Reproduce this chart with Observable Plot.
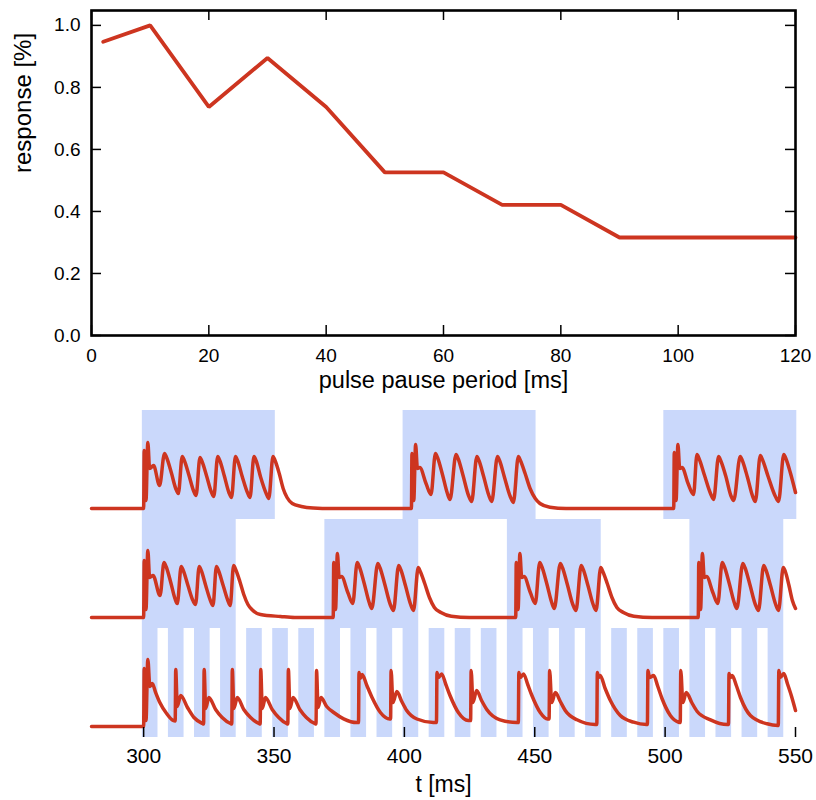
<!DOCTYPE html>
<html>
<head>
<meta charset="utf-8">
<script src="https://cdn.jsdelivr.net/npm/d3@7"></script>
<script src="https://cdn.jsdelivr.net/npm/@observablehq/plot@0.6"></script>
<style>
  html, body { margin: 0; padding: 0; background: #fff; overflow: hidden; }
  #chart svg { display: block; }
</style>
</head>
<body>
<div id="chart"></div>
<script>
// ---------- top panel data ----------
const pausePeriods = [2, 10, 20, 30, 40, 50, 60, 70, 80, 90, 100, 110, 120];
const responses = [0.947, 1.0, 0.737, 0.895, 0.737, 0.526, 0.526, 0.421, 0.421, 0.316, 0.316, 0.316, 0.316];
const pauseTicks = [0, 20, 40, 60, 80, 100, 120];
const responseTicks = [0.0, 0.2, 0.4, 0.6, 0.8, 1.0];

// ---------- bottom panel data ----------
const timeTicks = [300, 350, 400, 450, 500, 550];
const row1Blocks = [[300, 350], [400, 450], [500, 550]];
const row2Blocks = [[300, 335], [370, 405], [440, 475], [510, 545]];
const row3Pulses = [[300,305],[310,315],[320,325],[330,335],[340,345],[350,355],[360,365],[370,375],[380,385],[390,395],[400,405],[410,415],[420,425],[430,435],[440,445],[450,455],[460,465],[470,475],[480,485],[490,495],[500,505],[510,515],[520,525],[530,535],[540,545]];

// traces: [t (ms), response height]
const trace1 = [[280,0],[300.0,0],[300.2,58],[300.9,8],[301.6,66],[302.3,40],[303.8,43],[306.1,23],[308.0,55],
 [308.8,51],[310.6,36],[312.3,20],[313.3,15],[314.8,52],[315.6,48],[317.4,33],[319.1,18],[320.1,13],
 [321.6,51],[322.4,47],[324.2,32],[325.9,17],[326.9,12],[328.4,52],[329.2,48],[331.0,32],[332.7,16],[333.7,11],
 [335.2,52],[336.0,48],[337.8,32],[339.8,16],[340.8,11],[342.3,52],[343.1,48],[344.9,31],[347.0,15],[348.0,10],
 [349.6,52],[350.4,48],[352.0,35],[353.5,20],[355.0,11],[357.0,5],[360.5,2],[365,0.5],[372,0],
 [402.7,0],[402.9,55],[403.6,8],[404.3,64],[405.0,40],[405.9,41],[408.3,25],[410.2,14],[411.9,55],
 [412.7,51],[414.6,34],[416.5,15],[417.5,9],[419.8,54],[420.6,50],[422.5,33],[424.6,13],[425.8,7],
 [427.8,52],[428.6,48],[430.4,32],[432.4,13],[433.5,7],[435.7,52],[436.5,48],[438.4,31],[440.6,12],[441.8,6],
 [443.7,52],[444.5,48],[446.3,35],[448.2,20],[450.2,10],[452.0,5],[455.8,1.3],[462,0],
 [503.3,0],[503.5,56],[504.2,8],[504.9,64],[505.6,40],[506.5,41],[508.8,25],[510.9,14],[512.2,54],
 [513.0,50],[515.0,34],[517.4,15],[518.6,9],[520.5,52],[521.3,48],[523.3,32],[525.2,13],[526.3,8],
 [528.8,52],[529.6,48],[531.6,31],[533.6,12],[534.6,7],[536.5,53],[537.3,49],[539.5,32],[542.3,12],[543.5,7],
 [545.5,54],[546.3,50],[548.0,36],[550,16]];

const trace2 = [[280,0],[300.0,0],[300.2,57],[300.9,8],[301.6,67],[302.3,40],[303.6,42],[306.3,22],[307.8,55],
 [308.6,51],[310.4,35],[312.0,19],[312.9,14],[314.4,51],[315.2,47],[317.0,32],[318.9,17],[319.9,13],
 [321.3,51],[322.1,47],[323.8,32],[325.6,17],[326.6,12],[327.9,51],[328.7,47],[330.5,32],[332.3,17],[333.2,12],
 [334.5,52],[335.3,48],[336.9,36],[338.4,23],[340.0,13],[341.5,8],[344.8,3],[352.5,1],[358,0],
 [372.7,0],[372.9,55],[373.6,8],[374.3,64],[375.0,40],[375.9,41],[378.3,25],[380.2,14],[381.9,55],
 [382.7,51],[384.6,34],[386.5,15],[387.5,9],[389.8,54],[390.6,50],[392.5,33],[394.6,13],[395.8,7],
 [397.8,52],[398.6,48],[400.4,32],[402.4,13],[403.5,7],[405.3,50],[406.1,46],[407.8,34],[409.6,20],
 [411.5,10],[414.0,5],[418.0,1.3],[425,0],
 [442.7,0],[442.9,55],[443.6,8],[444.3,64],[445.0,40],[445.9,41],[448.3,25],[450.2,14],[451.9,55],
 [452.7,51],[454.6,34],[456.5,15],[457.5,9],[459.8,54],[460.6,50],[462.5,33],[464.6,13],[465.8,7],
 [467.8,52],[468.6,48],[470.4,32],[472.4,13],[473.5,7],[475.3,50],[476.1,46],[477.8,34],[479.6,20],
 [481.5,10],[484.0,5],[488.0,1.3],[495,0],
 [512.7,0],[512.9,55],[513.6,8],[514.3,64],[515.0,40],[515.9,41],[518.3,25],[520.2,14],[521.9,55],
 [522.7,51],[524.6,34],[526.5,15],[527.5,9],[529.8,54],[530.6,50],[532.5,33],[534.6,13],[535.8,7],
 [537.8,52],[538.6,48],[540.4,32],[542.4,13],[543.5,7],[545.3,50],[546.1,46],[547.5,32],[548.8,17],[550,9]];

const trace3 = [[280,0],[300.0,0],[300.2,58],[300.9,6],[301.6,67],[302.4,40],[303.3,43],[304.6,34],[306.2,24],[308.8,13],[311.3,6],[312.1,5.5],
 [312.3,57],[312.9,20],[314.2,31],[316.8,19],[319.3,9],[322.6,3],[323.0,2.5],
 [323.2,57],[323.8,18],[325.0,29],[327.6,17],[330.1,9],[333.3,3],[333.8,2.5],
 [334.0,57],[334.6,18],[335.9,29],[338.4,17],[341.0,9],[344.2,3],[344.7,2.5],
 [344.9,57],[345.5,18],[346.7,29],[349.3,17],[351.8,9],[354.8,3],[355.3,2.5],
 [355.5,57],[356.1,18],[357.3,29],[359.9,17],[362.4,9],[365.6,3],[366.1,2.5],
 [366.3,56],[366.9,19],[368.0,29],[370.2,20],[372.9,14],[376.7,7.7],[381.8,4],[382.4,4],
 [382.6,54],[383.1,48],[383.8,52],[385.6,41],[387.6,29],[390.8,14],[394.4,7.5],[394.7,7.5],
 [394.9,56],[395.6,24],[397.1,35],[399.0,25],[400.9,16],[404.8,7.5],[411.1,4],[412.3,4],
 [412.5,54],[413.0,49],[414.3,52.5],[415.9,42],[417.5,31],[420.7,14],[424.5,6],[425.4,6],
 [425.6,56],[426.3,24],[427.7,36],[429.6,26],[431.6,17],[436.7,6.7],[443.1,4],[443.7,4],
 [443.9,54],[444.4,49],[445.7,52.5],[447.3,42],[448.9,31],[452.1,14],[454.9,7.5],[455.5,7.5],
 [455.7,56],[456.5,24],[457.9,34],[459.8,25],[461.7,16],[466.2,6.7],[473.2,2],[473.8,2],
 [474.0,54],[474.5,49],[475.1,51],[477.0,38],[479.0,26],[482.8,11],[487.9,4.3],[492.8,2],[493.2,2],
 [493.4,56],[494.0,49],[495.6,51],[497.2,40],[498.8,28],[502.0,11],[505.2,4.3],[505.8,4],
 [506.0,56],[506.8,24],[508.1,34],[510.2,24],[512.3,15],[517.4,6.7],[523.8,2],[524.3,2],
 [524.5,53],[525.0,49],[525.7,51],[527.3,41],[528.9,29],[532.7,11],[539.1,2.7],[543.2,1],[543.4,1],
 [543.6,56],[544.2,49],[545.5,53],[547.0,42],[548.5,30],[550,16]];

const RED = "#cd3520";
const BLUE = "#cad8fb";
const FONT = "'Liberation Sans', Arial, Helvetica, sans-serif";

// ---------- top plot ----------
const topData = pausePeriods.map((p, i) => ({p, r: responses[i]}));
const topPlot = Plot.plot({
  width: 816, height: 395,
  marginLeft: 91, marginRight: 21, marginTop: 10, marginBottom: 60,
  style: {fontFamily: FONT, fontSize: "19px", color: "black", background: "white"},
  x: {domain: [0, 120]},
  y: {domain: [0, 1.048]},
  marks: [
    Plot.line(topData, {x: "p", y: "r", stroke: RED, strokeWidth: 3.8, strokeLinejoin: "miter"}),
    Plot.tickX(pauseTicks, {x: d => d, insetTop: 315, stroke: "black", strokeWidth: 1.5}),
    Plot.tickX(pauseTicks, {x: d => d, insetBottom: 315, stroke: "black", strokeWidth: 1.5}),
    Plot.tickY(responseTicks, {y: d => d, insetRight: 694, stroke: "black", strokeWidth: 1.5}),
    Plot.tickY(responseTicks, {y: d => d, insetLeft: 694, stroke: "black", strokeWidth: 1.5}),
    Plot.frame({stroke: "black", strokeWidth: 2.6}),
    Plot.axisX({ticks: pauseTicks, tickSize: 0, tickPadding: 13, label: null, fontSize: 19}),
    Plot.axisY({ticks: responseTicks, tickSize: 0, tickPadding: 11, tickFormat: ".1f", label: null, fontSize: 19}),
    Plot.text(["pulse pause period [ms]"], {text: d => d, frameAnchor: "bottom", dy: 45, fontSize: 23.5, lineAnchor: "middle"}),
    Plot.text(["response [%]"], {text: d => d, frameAnchor: "left", rotate: -90, dx: -68, fontSize: 24, lineAnchor: "middle"})
  ]
});

// ---------- bottom plot ----------
const rectData = [
  ...row1Blocks.map(([a, b]) => ({row: 0, a, b})),
  ...row2Blocks.map(([a, b]) => ({row: 1, a, b})),
  ...row3Pulses.map(([a, b]) => ({row: 2, a, b}))
];
const traceData = [trace1, trace2, trace3].flatMap((tr, row) => tr.map(([t, v]) => ({row, t, v})));

const bottomPlot = Plot.plot({
  width: 816, height: 405,
  marginLeft: 91, marginRight: 21, marginTop: 15, marginBottom: 63,
  style: {fontFamily: FONT, fontSize: "21px", color: "black", background: "white"},
  x: {domain: [280, 550]},
  y: {domain: [-11, 98], axis: null},
  fy: {domain: [0, 1, 2], axis: null, padding: 0},
  marks: [
    Plot.rect(rectData, {x1: "a", x2: "b", fy: "row", fill: BLUE, insetLeft: -1.3, insetRight: -1.3}),
    Plot.line(traceData, {x: "t", y: "v", z: "row", fy: "row", stroke: RED, strokeWidth: 3.5, curve: "monotone-x", strokeLinejoin: "round"}),
    Plot.tickX(timeTicks, {x: d => d, fy: () => 2, insetTop: 99, stroke: "black", strokeWidth: 1.5}),
    Plot.axisX({ticks: timeTicks, tickSize: 0, tickPadding: 11, label: null, fontSize: 21}),
    Plot.text(["t [ms]"], {text: d => d, fy: () => 2, frameAnchor: "bottom", dy: 47, fontSize: 23, lineAnchor: "middle"})
  ]
});

document.getElementById("chart").append(topPlot, bottomPlot);
</script>
</body>
</html>
